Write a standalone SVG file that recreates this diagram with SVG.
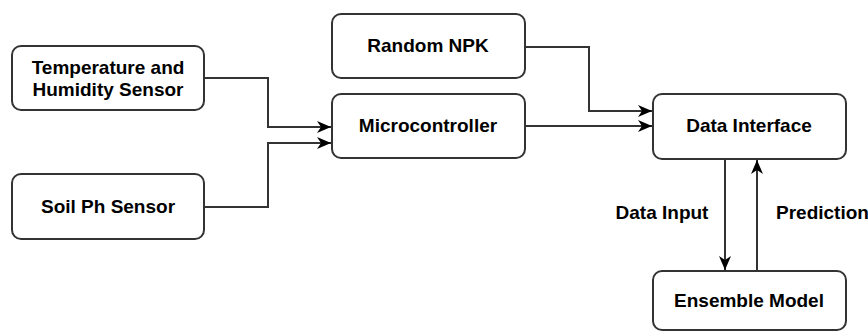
<svg xmlns="http://www.w3.org/2000/svg" width="868" height="331" viewBox="0 0 868 331">
<style>
.box{fill:#fff;stroke:#333;stroke-width:2}
.lbl{font-family:"Liberation Sans",Arial,sans-serif;font-weight:bold;font-size:19px;fill:#000;text-anchor:middle}
.edge{fill:none;stroke:#333;stroke-width:2}
</style>
<defs>
<marker id="arr" markerUnits="userSpaceOnUse" markerWidth="16" markerHeight="14" refX="14" refY="7" orient="auto" viewBox="0 0 16 14">
<path d="M0,1 L14,7 L0,13 L4,7 Z" fill="#000"/>
</marker>
</defs>
<rect width="868" height="331" fill="#fff"/>
<g id="edges">
<path class="edge" d="M204,78 H268 V127 H331" marker-end="url(#arr)"/>
<path class="edge" d="M204,207 H268 V143 H331" marker-end="url(#arr)"/>
<path class="edge" d="M525,47 H589 V111 H652" marker-end="url(#arr)"/>
<path class="edge" d="M525,126 H652" marker-end="url(#arr)"/>
<path class="edge" d="M725,159 V270" marker-end="url(#arr)"/>
<path class="edge" d="M757,271 V160" marker-end="url(#arr)"/>
<text class="lbl" x="662" y="219">Data Input</text>
<text class="lbl" x="776" y="219" style="text-anchor:start">Prediction</text>
</g>
<g id="temp">
<rect class="box" x="12" y="46" width="192" height="64" rx="9"/>
<text class="lbl" x="108" y="74">Temperature and</text>
<text class="lbl" x="108" y="96">Humidity Sensor</text>
</g>
<g id="soil">
<rect class="box" x="12" y="174" width="192" height="65" rx="9"/>
<text class="lbl" x="108" y="213">Soil Ph Sensor</text>
</g>
<g id="npk">
<rect class="box" x="332" y="14" width="193" height="64" rx="9"/>
<text class="lbl" x="428" y="52">Random NPK</text>
</g>
<g id="micro">
<rect class="box" x="332" y="94" width="193" height="64" rx="9"/>
<text class="lbl" x="428" y="132">Microcontroller</text>
</g>
<g id="di">
<rect class="box" x="653" y="94" width="193" height="65" rx="9"/>
<text class="lbl" x="749" y="132">Data Interface</text>
</g>
<g id="ensemble">
<rect class="box" x="653" y="271" width="193" height="59" rx="9"/>
<text class="lbl" x="749" y="307">Ensemble Model</text>
</g>
</svg>
